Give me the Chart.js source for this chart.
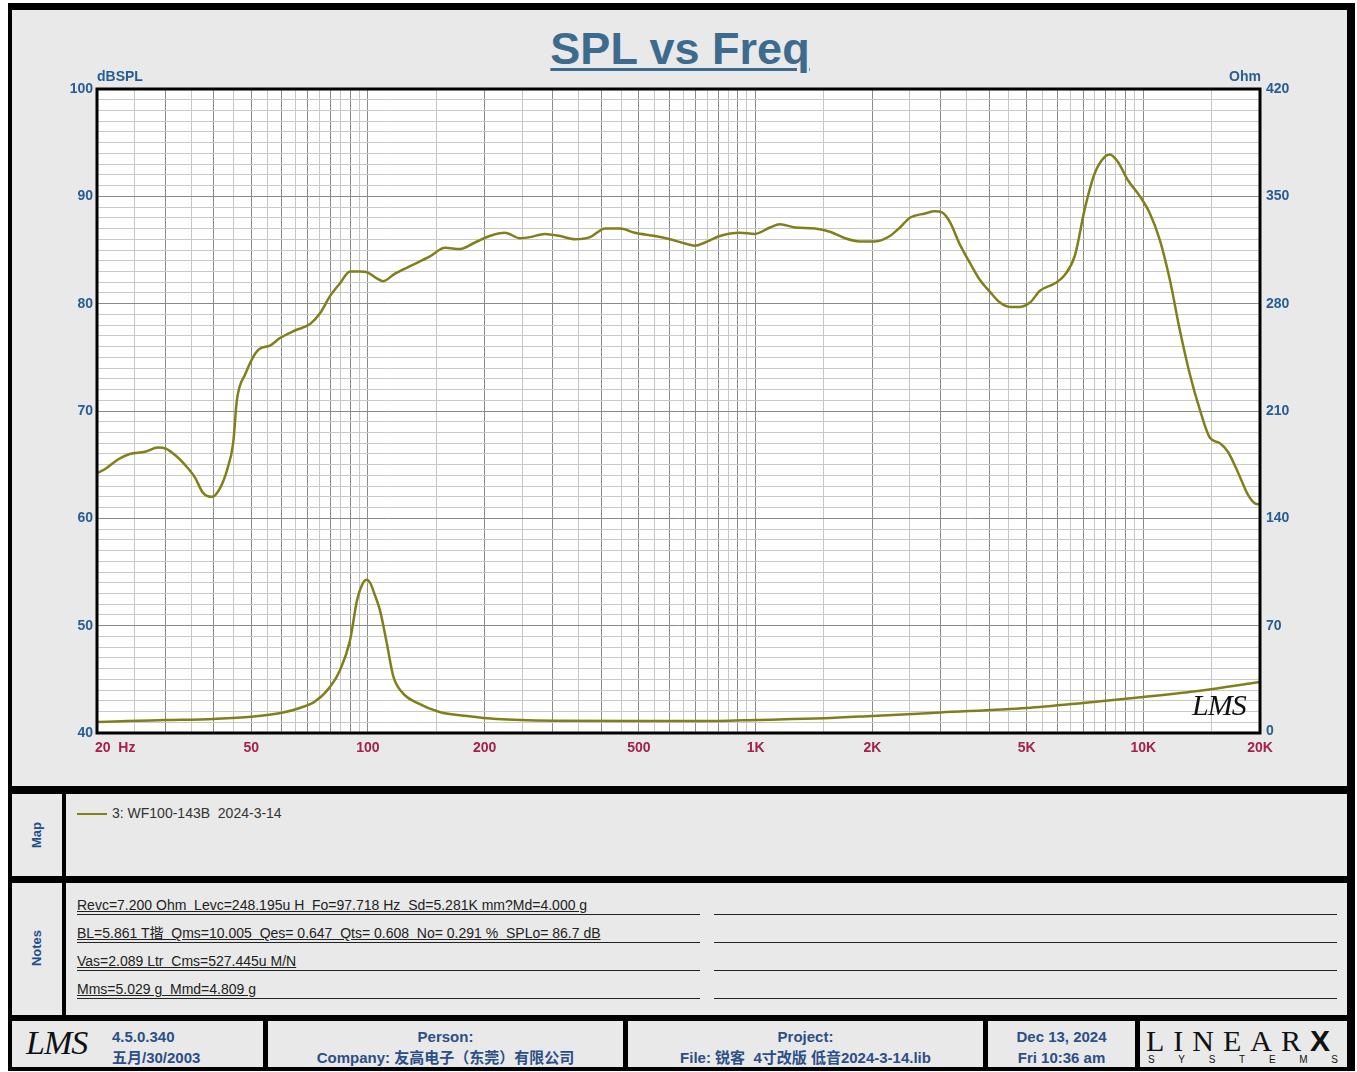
<!DOCTYPE html>
<html lang="zh">
<head>
<meta charset="UTF-8">
<title>SPL vs Freq</title>
<script src="https://cdn.jsdelivr.net/npm/chart.js"></script>
<style>
    body {
        margin: 0;
        width: 1357px;
        height: 1072px;
        position: relative;
        overflow: hidden;
        background: #ffffff;
        font-family: 'Liberation Sans', Arial, 'Noto Sans CJK SC', sans-serif;
    }
    .frame { position: absolute; left: 8px; top: 3px; width: 1347px; height: 1068px; background: #000; }
    .panel { position: absolute; background: #e9e9e9; }
    #chartWrap { position: absolute; left: 0; top: 0; width: 1357px; height: 790px; }
    .title {
        position: absolute; left: 0; width: 1360px; top: 23px; text-align: center;
        font: bold 45px 'Liberation Sans', Arial, sans-serif; color: #3d6b8d;
        text-decoration: underline; text-decoration-thickness: 3px; text-underline-offset: 4px;
    }
    .side {
        position: absolute; font: bold 13px 'Liberation Sans', Arial, sans-serif; color: #1f4f86;
        transform: translate(-50%, -50%) rotate(-90deg); white-space: nowrap;
    }
    .legend { position: absolute; left: 77px; top: 805px; font: 14px 'Liberation Sans', Arial, sans-serif; color: #333; white-space: pre; }
    .legend span { display: inline-block; width: 30px; height: 2px; background: #808018; vertical-align: middle; margin-right: 5px; }
    .note {
        position: absolute; left: 77px; width: 623px; height: 17px; border-bottom: 1px solid #222;
        font: 14px 'Liberation Sans', Arial, 'Noto Sans CJK SC', sans-serif; color: #222;
        white-space: pre; line-height: 17px; text-decoration: underline;
    }
    .noteR { position: absolute; left: 714px; width: 623px; height: 0; border-bottom: 1px solid #222; }
    .foot {
        position: absolute; top: 1026px; text-align: center;
        font: bold 15px 'Liberation Sans', Arial, 'Noto Sans CJK SC', sans-serif; color: #2c4f86;
        line-height: 21px; white-space: pre;
    }
    .lms { position: absolute; font: italic 34px 'Liberation Serif', serif; color: #111; letter-spacing: -1px; }
</style>
</head>
<body>
<div class="frame"></div>
<div class="panel" style="left:12px;top:10px;width:1335px;height:776px"></div>
<div class="panel" style="left:12px;top:794px;width:50px;height:82px"></div>
<div class="panel" style="left:66px;top:794px;width:1281px;height:82px"></div>
<div class="panel" style="left:12px;top:883px;width:50px;height:132px"></div>
<div class="panel" style="left:66px;top:883px;width:1281px;height:132px"></div>
<div class="panel" style="left:12px;top:1021px;width:251px;height:46px"></div>
<div class="panel" style="left:268px;top:1021px;width:355px;height:46px"></div>
<div class="panel" style="left:628px;top:1021px;width:355px;height:46px"></div>
<div class="panel" style="left:988px;top:1021px;width:147px;height:46px"></div>
<div class="panel" style="left:1140px;top:1021px;width:207px;height:46px"></div>

<div class="title">SPL vs Freq</div>
<div id="chartWrap"><canvas id="splChart" width="1357" height="790"></canvas></div>
<div class="lms" style="left:1192px;top:688px;font-size:30px">LMS</div>

<div class="side" style="left:36px;top:835px">Map</div>
<div class="side" style="left:36px;top:948px">Notes</div>
<div class="legend"><span></span>3: WF100-143B  2024-3-14</div>

<div class="note" style="top:897px">Revc=7.200 Ohm  Levc=248.195u H  Fo=97.718 Hz  Sd=5.281K mm?Md=4.000 g</div>
<div class="note" style="top:925px">BL=5.861 T揩  Qms=10.005  Qes= 0.647  Qts= 0.608  No= 0.291 %  SPLo= 86.7 dB</div>
<div class="note" style="top:953px">Vas=2.089 Ltr  Cms=527.445u M/N</div>
<div class="note" style="top:981px">Mms=5.029 g  Mmd=4.809 g</div>
<div class="noteR" style="top:914px"></div>
<div class="noteR" style="top:942px"></div>
<div class="noteR" style="top:970px"></div>
<div class="noteR" style="top:998px"></div>

<div class="lms" style="left:26px;top:1024px">LMS</div>
<div class="foot" style="left:112px;text-align:left">4.5.0.340
五月/30/2003</div>
<div class="foot" style="left:268px;width:355px">Person:
Company: 友高电子（东莞）有限公司</div>
<div class="foot" style="left:628px;width:355px">Project:
File: 锐客  4寸改版 低音2024-3-14.lib</div>
<div class="foot" style="left:988px;width:147px">Dec 13, 2024
Fri 10:36 am</div>
<div style="position:absolute;left:1146px;top:1024px;width:194px;font:30px 'Liberation Serif',serif;color:#111;letter-spacing:9px;white-space:nowrap">LINEAR<b style="font-family:'Liberation Sans',Arial,sans-serif;font-weight:900;letter-spacing:0">X</b></div>
<div style="position:absolute;left:1148px;top:1054px;width:190px;display:flex;justify-content:space-between;font:10px 'Liberation Sans',Arial,sans-serif;color:#111">
    <span>S</span><span>Y</span><span>S</span><span>T</span><span>E</span><span>M</span><span>S</span>
</div>

<script>
    // SPL curve (Hz, dBSPL)
    const splFreq = [20, 21, 22.7, 24.3, 26.6, 28.7, 30.1, 31.8, 33.7, 35.8, 37.5, 39.6, 41.5, 43.3, 44.9, 45.9,
        48.2, 52.1, 55.9, 59.3, 64.8, 70.9, 75.2, 79.8, 84.7, 89.9, 95.4, 100, 104.9, 109.3, 117.4, 128.4,
        144.5, 158, 172.8, 188.8, 206, 225.6, 246.7, 261.8, 286, 313, 342, 374, 409, 447, 488, 550, 601,
        657, 697, 740, 809, 911, 996, 1089, 1155, 1263, 1422, 1555, 1700, 1858, 2031, 2220, 2356, 2500,
        2734, 2900, 3024, 3171, 3365, 3571, 3790, 4022, 4268, 4529, 4806, 5100, 5412, 5917, 6279, 6663,
        7070, 7503, 7962, 8202, 8602, 9128, 9802, 10400, 11038, 11712, 12429, 13190, 13996, 14853, 15762,
        16526, 17539, 18613, 19402, 20000];
    const splDb = [64.2, 64.6, 65.5, 66.0, 66.2, 66.6, 66.5, 65.9, 65.0, 63.8, 62.4, 62.0, 62.8, 64.5, 67.0, 71.0,
        73.4, 75.7, 76.1, 76.8, 77.5, 78.1, 79.1, 80.7, 81.9, 83.0, 83.0, 82.9, 82.4, 82.1, 82.8, 83.5,
        84.4, 85.2, 85.1, 85.7, 86.3, 86.6, 86.1, 86.2, 86.5, 86.3, 86.0, 86.2, 87.0, 87.0, 86.6, 86.3, 86.0,
        85.6, 85.4, 85.7, 86.3, 86.6, 86.5, 87.1, 87.4, 87.1, 87.0, 86.7, 86.1, 85.8, 85.8, 86.3, 87.1, 88.0,
        88.4, 88.6, 88.5, 87.6, 85.5, 83.8, 82.2, 81.1, 80.1, 79.7, 79.7, 80.1, 81.2, 81.9, 82.7, 84.5,
        88.9, 92.2, 93.7, 93.9, 93.2, 91.5, 90.0, 88.4, 85.9, 82.2, 77.5, 73.4, 70.1, 67.5, 67.0,
        66.2, 64.3, 62.2, 61.4, 61.3];

    // Impedance curve (Hz, Ohm)
    const zFreq = [20, 24, 30, 40, 50, 60, 67, 73, 79.8, 84.7, 89.9, 93.7, 96.5, 99, 101.5, 104, 107.4, 111.8,
        116.3, 123, 134, 153, 180, 215, 300, 500, 800, 1000, 1500, 2000, 3000, 5000, 7000, 10000, 14000, 20000];
    const zOhm = [7.2, 7.8, 8.4, 9.2, 10.6, 13.2, 16.5, 20.5, 30.0, 41.0, 60.5, 86.5, 96.5, 100.0, 97.5, 90.5, 80.0,
        58.7, 36.7, 26.0, 19.6, 13.7, 11.1, 9.1, 8.0, 7.8, 7.9, 8.5, 9.6, 11.1, 13.4, 16.3, 19.6, 23.5, 27.6, 33.3];

    const xTickValues = [20, 50, 100, 200, 500, 1000, 2000, 5000, 10000, 20000];
    const xTickLabels = ['20  Hz', '50', '100', '200', '500', '1K', '2K', '5K', '10K', '20K'];
    const dbTicks = [40, 50, 60, 70, 80, 90, 100];
    const ohmTicks = [0, 70, 140, 210, 280, 350, 420];

    const CURVE = '#80801a';
    const AXIS_BLUE = '#285d92';
    const FREQ_RED = '#a3204f';

    // grid at every half step of each decade, darker on whole steps
    const gridFreqs = [];
    [10, 100, 1000, 10000].forEach(d => {
        for (let m = 1; m < 10; m += 0.5) {
            const v = d * m;
            if (v >= 20 && v <= 20000) gridFreqs.push(v);
        }
    });
    const gridDb = [];
    for (let v = 40; v <= 100; v++) gridDb.push(v);

    function isWhole(v) {
        const m = v / Math.pow(10, Math.floor(Math.log10(v) + 1e-9));
        return Math.abs(m - Math.round(m)) < 1e-6;
    }

    const plotFrame = {
        id: 'plotFrame',
        beforeDraw(chart) {
            const a = chart.chartArea, ctx = chart.ctx;
            ctx.save();
            ctx.fillStyle = '#ffffff';
            ctx.fillRect(a.left, a.top, a.right - a.left, a.bottom - a.top);
            ctx.restore();
        },
        afterDraw(chart) {
            const a = chart.chartArea, ctx = chart.ctx;
            const x = chart.scales.x, y = chart.scales.y, y1 = chart.scales.y1;
            ctx.save();
            ctx.strokeStyle = '#000';
            ctx.lineWidth = 3;
            ctx.strokeRect(a.left, a.top, a.right - a.left, a.bottom - a.top);

            ctx.font = 'bold 14px "Liberation Sans", Arial, sans-serif';
            ctx.textBaseline = 'middle';
            ctx.fillStyle = AXIS_BLUE;
            ctx.textAlign = 'right';
            dbTicks.forEach(v => ctx.fillText(String(v), a.left - 4, y.getPixelForValue(v)));
            ctx.textAlign = 'left';
            ohmTicks.forEach(v => ctx.fillText(String(v), a.right + 6, y1.getPixelForValue(v) - (v === 0 ? 2 : 0)));

            ctx.textBaseline = 'alphabetic';
            ctx.fillText('dBSPL', a.left, a.top - 8);
            ctx.textAlign = 'right';
            ctx.fillText('Ohm', a.right + 1, a.top - 8);

            ctx.fillStyle = FREQ_RED;
            ctx.textBaseline = 'middle';
            xTickValues.forEach((v, i) => {
                ctx.textAlign = i === 0 ? 'left' : 'center';
                const px = x.getPixelForValue(v);
                ctx.fillText(xTickLabels[i], i === 0 ? px - 2 : px, a.bottom + 15);
            });
            ctx.restore();
        }
    };

    new Chart(document.getElementById('splChart'), {
        type: 'line',
        data: {
            datasets: [{
                label: 'SPL',
                data: splFreq.map((f, i) => ({ x: f, y: splDb[i] })),
                borderColor: CURVE,
                borderWidth: 2.5,
                pointRadius: 0,
                cubicInterpolationMode: 'monotone',
                yAxisID: 'y'
            }, {
                label: 'Impedance',
                data: zFreq.map((f, i) => ({ x: f, y: zOhm[i] })),
                borderColor: CURVE,
                borderWidth: 2.5,
                pointRadius: 0,
                cubicInterpolationMode: 'monotone',
                yAxisID: 'y1'
            }]
        },
        options: {
            responsive: false,
            animation: false,
            devicePixelRatio: 1,
            layout: { padding: { top: 89, left: 0, right: 0, bottom: 0 } },
            plugins: { legend: { display: false }, tooltip: { enabled: false } },
            scales: {
                x: {
                    type: 'logarithmic',
                    min: 20,
                    max: 20000,
                    afterBuildTicks: s => { s.ticks = gridFreqs.map(v => ({ value: v })); },
                    afterFit: s => { s.height = 57; },
                    ticks: { display: false },
                    border: { display: false },
                    grid: {
                        drawTicks: false,
                        color: c => isWhole(c.tick.value) ? '#8a8a8a' : '#c6c6c6',
                        lineWidth: 1
                    }
                },
                y: {
                    min: 40,
                    max: 100,
                    afterBuildTicks: s => { s.ticks = gridDb.map(v => ({ value: v })); },
                    afterFit: s => { s.width = 97; },
                    ticks: { display: false },
                    border: { display: false },
                    grid: {
                        drawTicks: false,
                        color: c => c.tick.value % 10 === 0 ? '#8a8a8a' : '#c9c9c9'
                    }
                },
                y1: {
                    position: 'right',
                    min: 0,
                    max: 420,
                    afterFit: s => { s.width = 97; },
                    ticks: { display: false },
                    border: { display: false },
                    grid: { display: false }
                }
            }
        },
        plugins: [plotFrame]
    });
</script>
</body>
</html>
